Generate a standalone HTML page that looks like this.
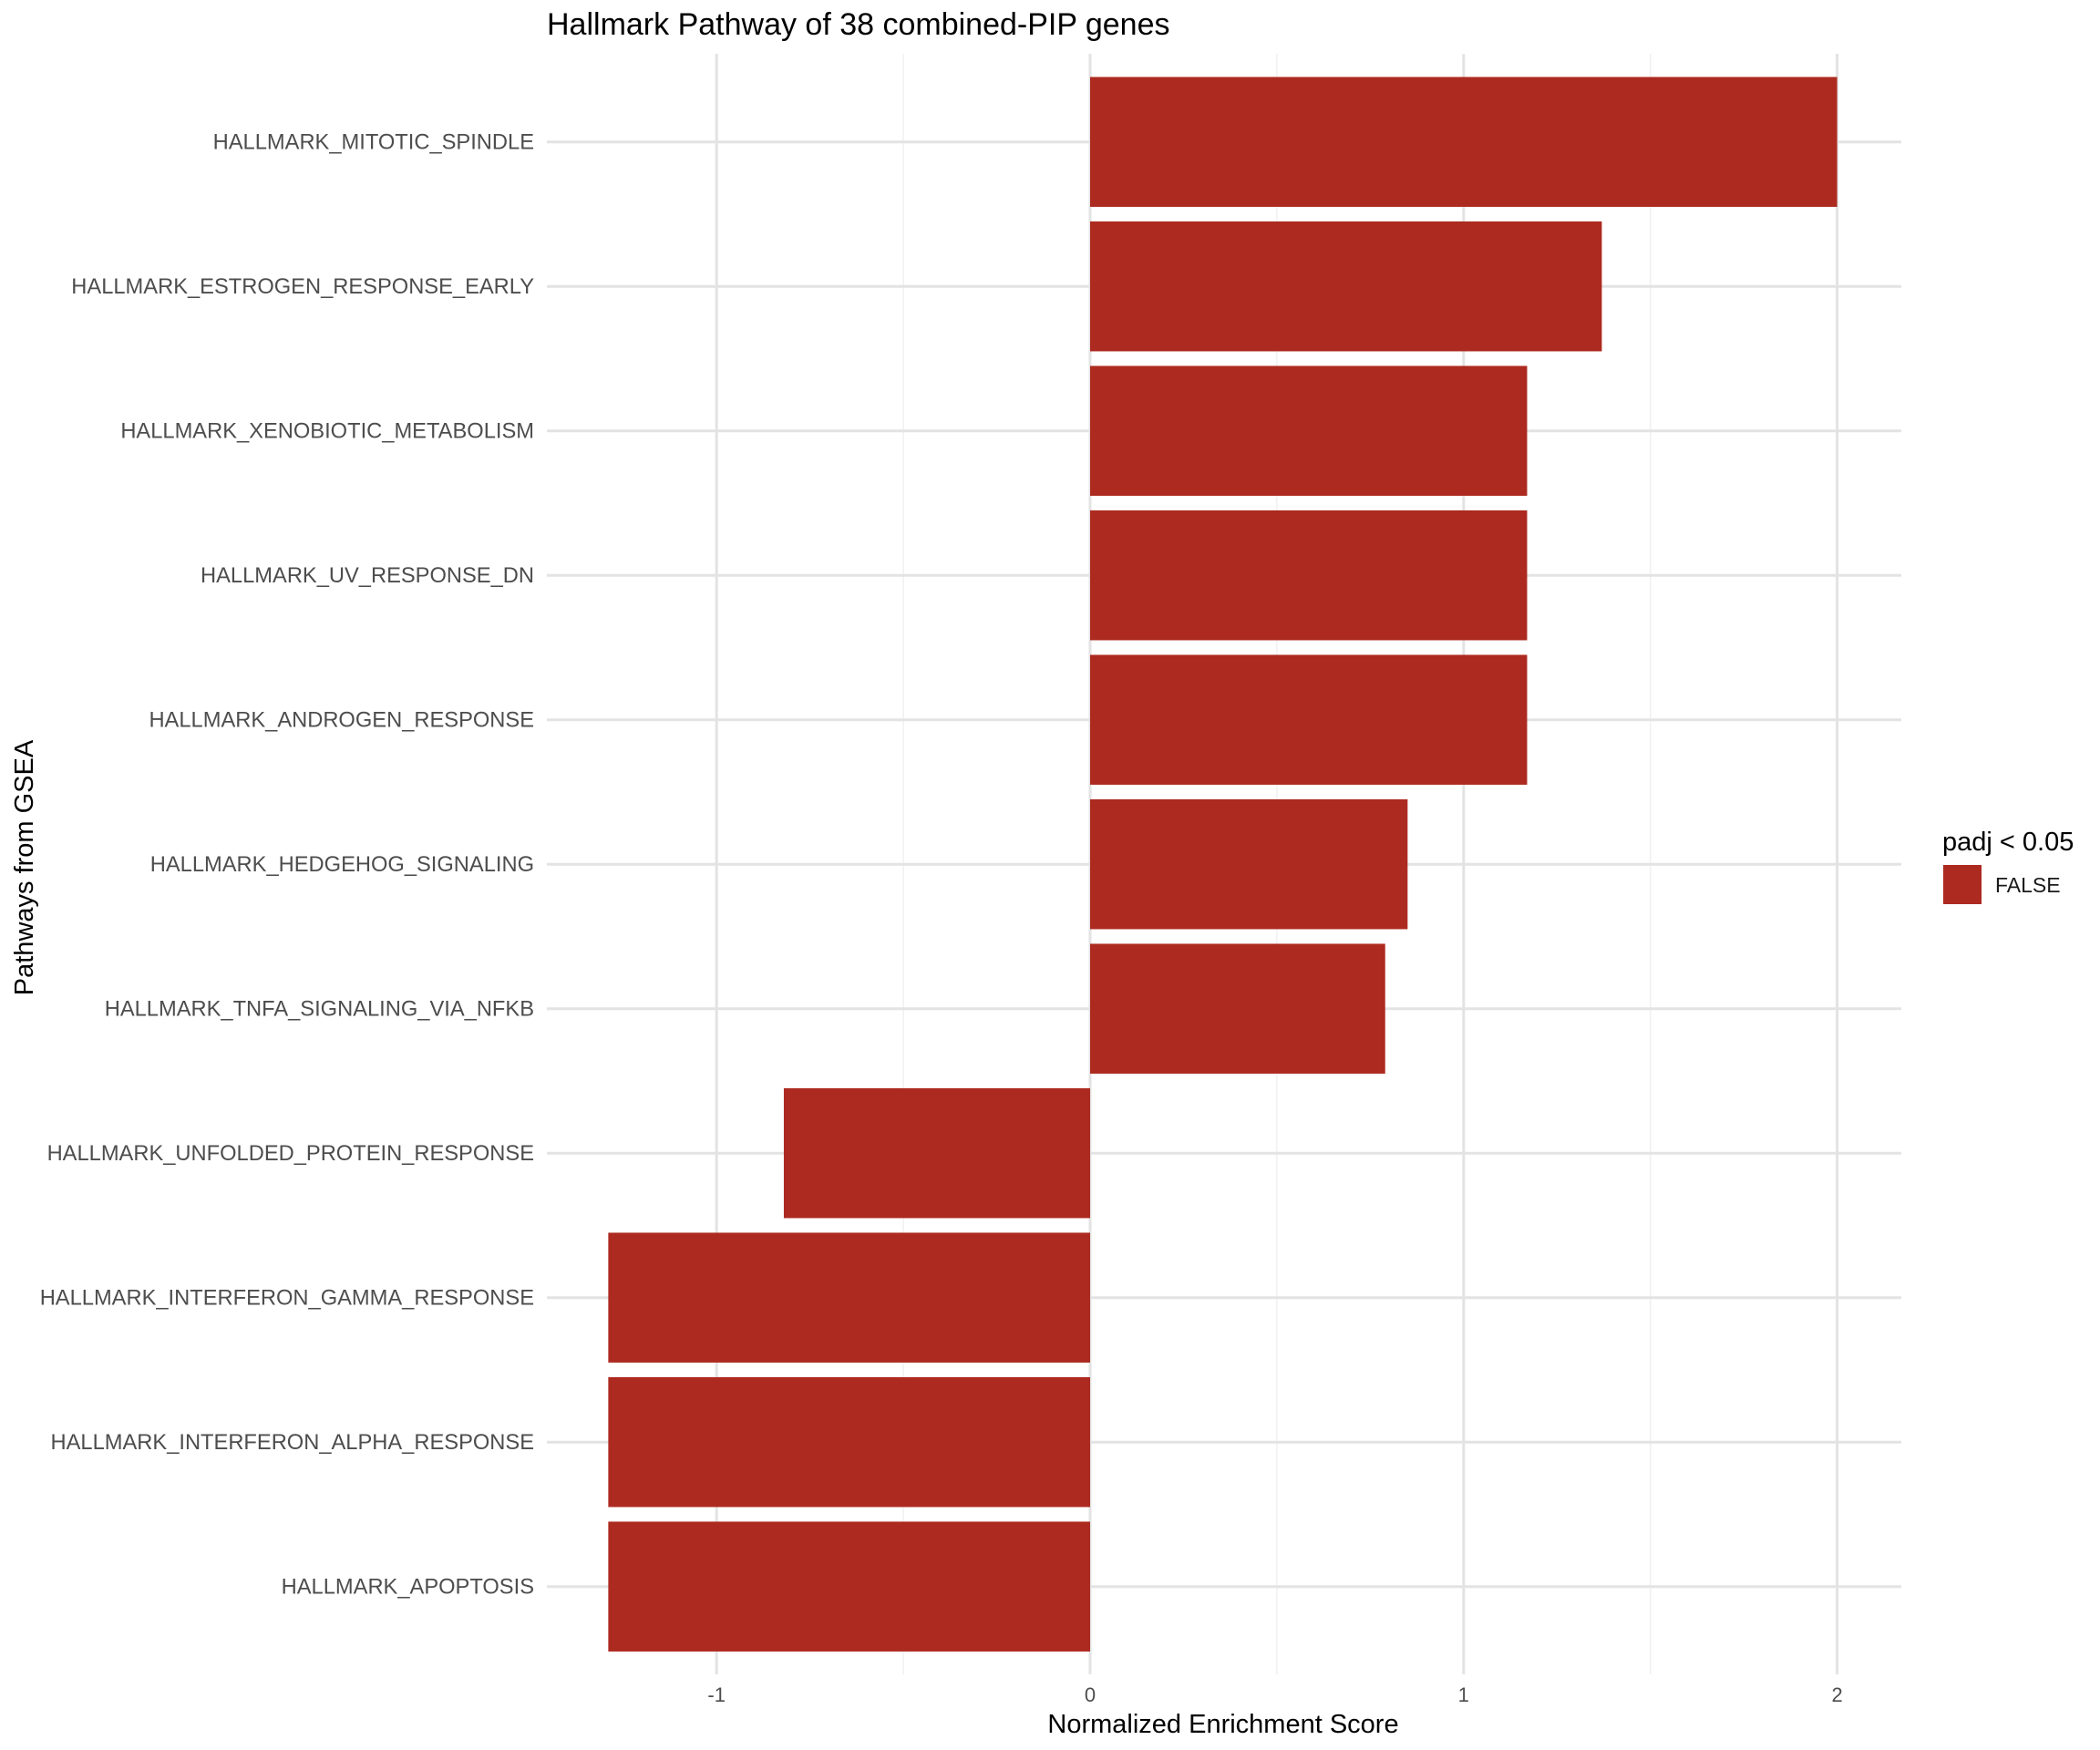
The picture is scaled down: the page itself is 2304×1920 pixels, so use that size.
<!DOCTYPE html>
<html><head><meta charset="utf-8">
<style>
html,body{margin:0;padding:0;background:#fff;}
svg{display:block;font-family:"Liberation Sans",Arial,sans-serif;}
</style></head>
<body>
<svg id="chart" width="2304" height="1920" viewBox="0 0 2304 1920">
<rect width="2304" height="1920" fill="#fff"/>
<g id="grid"></g>
<g id="bars"></g>
<g id="ylabels"></g>
<g id="xlabels"></g>
<text x="600" y="38" font-size="34" fill="#000">Hallmark Pathway of 38 combined-PIP genes</text>
<text x="1342" y="1901" font-size="29" text-anchor="middle" fill="#000">Normalized Enrichment Score</text>
<text transform="translate(36,952) rotate(-90)" font-size="29" text-anchor="middle" fill="#000">Pathways from GSEA</text>
<g>
<text x="2131" y="933" font-size="29" fill="#000">padj &lt; 0.05</text>
<rect x="2132" y="949" width="42" height="43" fill="#AD2A20"/>
<text x="2189" y="979" font-size="23" fill="#1a1a1a">FALSE</text>
</g>
</svg>
<script>
const categories = ["HALLMARK_MITOTIC_SPINDLE","HALLMARK_ESTROGEN_RESPONSE_EARLY","HALLMARK_XENOBIOTIC_METABOLISM","HALLMARK_UV_RESPONSE_DN","HALLMARK_ANDROGEN_RESPONSE","HALLMARK_HEDGEHOG_SIGNALING","HALLMARK_TNFA_SIGNALING_VIA_NFKB","HALLMARK_UNFOLDED_PROTEIN_RESPONSE","HALLMARK_INTERFERON_GAMMA_RESPONSE","HALLMARK_INTERFERON_ALPHA_RESPONSE","HALLMARK_APOPTOSIS"];
const nesValues = [2.0,1.37,1.17,1.17,1.17,0.85,0.79,-0.82,-1.29,-1.29,-1.29];
const xTicks = [-1,0,1,2];
const xTickLabels = ["-1","0","1","2"];
const xMinorTicks = [-0.5,0.5,1.5];

const NS="http://www.w3.org/2000/svg";
const panelL=600, panelR=2086, panelT=59, panelB=1837;
const x0px=1196, unitPx=409.8;
const xScale=v=>x0px+v*unitPx;
const rowTop=155.7, rowStep=158.5, barH=142.5;
const yScale=i=>rowTop+i*rowStep;
function mk(tag,attrs,parent){const e=document.createElementNS(NS,tag);for(const k in attrs)e.setAttribute(k,attrs[k]);parent.appendChild(e);return e;}
const grid=document.getElementById('grid');
xMinorTicks.forEach(v=>{
  const l=mk('line',{x1:xScale(v),x2:xScale(v),y1:panelT,y2:panelB,stroke:'#f0f0f0','stroke-width':1.5},grid);
  
  
});
xTicks.forEach(v=>{
  const l=mk('line',{x1:xScale(v),x2:xScale(v),y1:panelT,y2:panelB,stroke:'#e3e3e3','stroke-width':3},grid);
  
  
});
categories.forEach((c,i)=>{
  const l=mk('line',{x1:panelL,x2:panelR,y1:yScale(i),y2:yScale(i),stroke:'#e3e3e3','stroke-width':3},grid);
  
  
});
const bars=document.getElementById('bars');
nesValues.forEach((v,i)=>{
  const xa=xScale(Math.min(0,v)), xb=xScale(Math.max(0,v));
  const r=mk('rect',{x:xa,y:yScale(i)-barH/2,width:xb-xa,height:barH,fill:'#AD2A20'},bars);
  
  
});
const yl=document.getElementById('ylabels');
categories.forEach((c,i)=>{
  const t=mk('text',{x:586,y:yScale(i)+8,'font-size':23.7,'text-anchor':'end',fill:'#4d4d4d'},yl);
  t.textContent=c;
  
  
});
const xl=document.getElementById('xlabels');
xTicks.forEach((v,i)=>{
  const t=mk('text',{x:xScale(v),y:1867,'font-size':22,'text-anchor':'middle',fill:'#4d4d4d'},xl);
  t.textContent=xTickLabels[i];
  
  
});
</script>
</body></html>
